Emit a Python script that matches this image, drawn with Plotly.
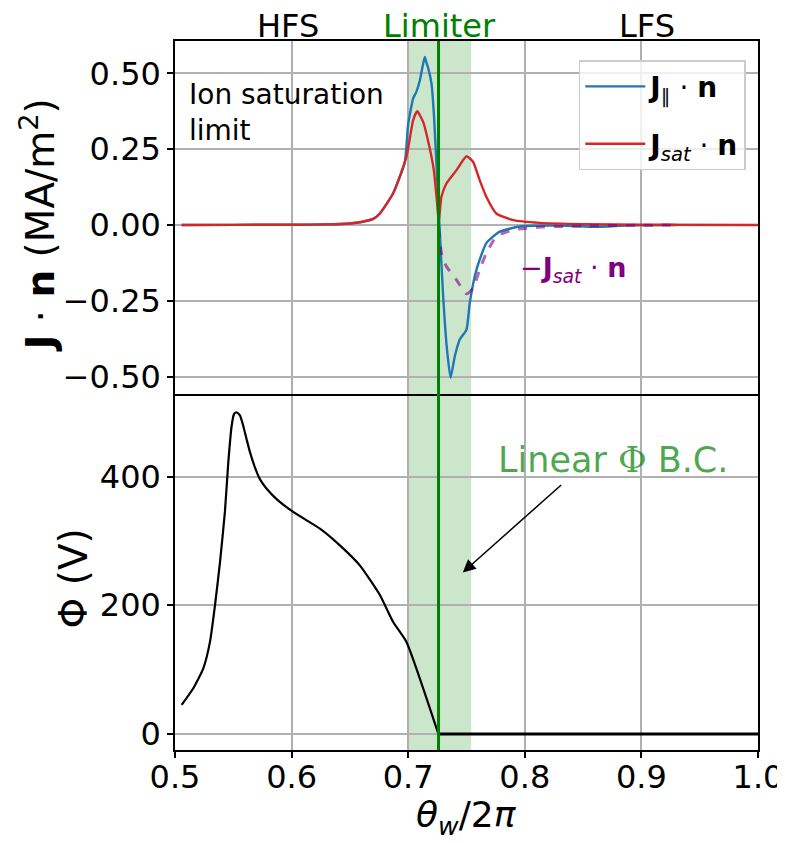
import plotly.graph_objects as go

# ---- data ----
theta_jsat = [0.5057, 0.55, 0.60, 0.63, 0.65, 0.66, 0.67, 0.6757, 0.687, 0.6985, 0.7042, 0.7077,
              0.7128, 0.7185, 0.722, 0.7248, 0.7262, 0.7285, 0.7328, 0.7414, 0.75, 0.7557,
              0.7613, 0.767, 0.7756, 0.79, 0.8128, 0.85, 0.90, 1.0]
jsat = [0.0, 0.0005, 0.001, 0.002, 0.005, 0.010, 0.020, 0.038, 0.104, 0.225, 0.345, 0.375,
        0.340, 0.252, 0.180, 0.071, 0.011, 0.093, 0.137, 0.181, 0.227, 0.208,
        0.148, 0.093, 0.038, 0.016, 0.007, 0.003, 0.001, 0.0]

theta_jpar = [0.5057, 0.55, 0.60, 0.63, 0.65, 0.66, 0.67, 0.6757, 0.687, 0.697, 0.6999, 0.7042,
              0.7071, 0.71, 0.7122, 0.7142, 0.7157, 0.717, 0.72, 0.722, 0.7242, 0.727, 0.730,
              0.733, 0.7363, 0.740, 0.7442, 0.75, 0.7528, 0.7585, 0.767, 0.7785, 0.7956,
              0.83, 0.86, 0.87, 0.89, 0.93]
jpar = [0.0, 0.0005, 0.001, 0.002, 0.005, 0.010, 0.020, 0.038, 0.104, 0.205, 0.330, 0.417,
        0.440, 0.477, 0.520, 0.554, 0.535, 0.520, 0.466, 0.368, 0.203, -0.016, -0.236,
        -0.400, -0.504, -0.433, -0.378, -0.345, -0.257, -0.148, -0.060, -0.022, -0.005,
        -0.002, -0.006, -0.005, -0.001, 0.0]

theta_neg = [0.7262, 0.7285, 0.7328, 0.7414, 0.75, 0.7557, 0.7613, 0.767, 0.7756, 0.79,
             0.8128, 0.85, 0.90, 0.93]
neg_jsat = [-0.011, -0.093, -0.137, -0.181, -0.227, -0.208, -0.148, -0.093, -0.038, -0.016,
            -0.007, -0.003, -0.001, 0.0]

theta_phi = [0.5057, 0.5157, 0.5243, 0.530, 0.5343, 0.5386, 0.5428, 0.5457, 0.5486, 0.5506,
             0.5528, 0.5557, 0.5585, 0.5614, 0.5643, 0.5686, 0.5728, 0.5786, 0.5871, 0.6014,
             0.6243, 0.6414, 0.6585, 0.6757, 0.6871, 0.6985, 0.7257]
phi = [45, 71, 102, 143, 200, 267, 345, 422, 479, 497, 500, 495, 479, 458, 438, 414, 396,
       381, 365, 345, 319, 293, 262, 216, 174, 143, 1]
theta_phi0 = [0.7257, 1.0]
phi0 = [0, 0]

x_ticks = [0.5, 0.6, 0.7, 0.8, 0.9, 1.0]
j_ticks = [-0.5, -0.25, 0.0, 0.25, 0.5]
phi_ticks = [0, 200, 400]

limiter_band = [0.700, 0.754]
limiter_pos = 0.726

FONT = "DejaVu Sans"
TICK = 32
LABEL = 39

fig = go.Figure()

fig.add_trace(go.Scatter(x=theta_jpar, y=jpar, mode="lines", xaxis="x", yaxis="y",
                         line=dict(color="#1f77b4", width=2.4, shape="spline", smoothing=0.5),
                         name="<b>J</b><sub>∥</sub> · <b>n</b>", legendgroup="a"))
fig.add_trace(go.Scatter(x=theta_jsat, y=jsat, mode="lines", xaxis="x", yaxis="y",
                         line=dict(color="#d62728", width=2.4, shape="spline", smoothing=0.5),
                         name="<b>J</b><sub><i>sat</i></sub> · <b>n</b>", legendgroup="b"))
fig.add_trace(go.Scatter(x=theta_neg, y=neg_jsat, mode="lines", xaxis="x", yaxis="y",
                         line=dict(color="rgba(128,0,128,0.6)", width=3, dash="dash",
                                   shape="spline", smoothing=0.5),
                         showlegend=False))
fig.add_trace(go.Scatter(x=theta_phi, y=phi, mode="lines", xaxis="x2", yaxis="y2",
                         line=dict(color="black", width=2.2, shape="spline", smoothing=0.5),
                         showlegend=False))
fig.add_trace(go.Scatter(x=theta_phi0, y=phi0, mode="lines", xaxis="x2", yaxis="y2",
                         line=dict(color="black", width=3),
                         showlegend=False))

axis_common = dict(showline=True, linecolor="black", linewidth=1.5,
                   showgrid=True, gridcolor="#b0b0b0", gridwidth=1.5, zeroline=False,
                   automargin=False,
                   tickfont=dict(family=FONT, size=TICK, color="black"))

# the page body adds an 8px offset, margins compensate for it
fig.update_layout(
    width=785, height=843,
    margin=dict(l=167, r=35, t=33, b=101),
    paper_bgcolor="white", plot_bgcolor="white",
    font=dict(family=FONT, color="black"),
    xaxis=dict(domain=[0, 1], anchor="y", matches="x2", range=[0.5, 1.0], side="top",
               mirror=False, tickvals=x_ticks, showticklabels=False, ticks="", **axis_common),
    yaxis=dict(domain=[0.5, 1], anchor="x", range=[-0.5625, 0.607], mirror=True,
               tickvals=j_ticks, tickformat=".2f", ticks="outside", ticklen=6,
               tickwidth=1.5, tickcolor="black", **axis_common),
    xaxis2=dict(domain=[0, 1], anchor="y2", range=[0.5, 1.0], tickvals=x_ticks, mirror=True,
                tickformat=".1f", ticks="outside", ticklen=6, tickwidth=1.5,
                tickcolor="black", ticklabelstandoff=-8, **axis_common),
    yaxis2=dict(domain=[0, 0.5], anchor="x2", range=[-25, 526], mirror=True,
                tickvals=phi_ticks, ticks="outside", ticklen=6, tickwidth=1.5,
                tickcolor="black", **axis_common),
    legend=dict(x=0.979, y=0.973, xanchor="right", yanchor="top",
                bgcolor="rgba(255,255,255,0.8)", bordercolor="#cccccc", borderwidth=1.5,
                font=dict(family=FONT, size=28, color="black"),
                tracegroupgap=18, itemwidth=60),
    showlegend=True,
)

fig.add_shape(type="rect", xref="x2", yref="paper", x0=limiter_band[0], x1=limiter_band[1],
              y0=0, y1=1, fillcolor="rgba(0,128,0,0.2)", line=dict(width=0), layer="below")
fig.add_shape(type="line", xref="x2", yref="paper", x0=limiter_pos, x1=limiter_pos,
              y0=0, y1=1, line=dict(color="#008000", width=3), layer="above")


def txt(**kw):
    d = dict(showarrow=False, xanchor="center", yanchor="middle")
    d.update(kw)
    return d


ann = []
ann.append(txt(xref="x", yref="paper", x=0.597, y=1.0205, text="HFS",
               font=dict(family=FONT, size=32, color="black")))
ann.append(txt(xref="x", yref="paper", x=0.727, y=1.0205, text="Limiter",
               font=dict(family=FONT, size=32, color="#008000")))
ann.append(txt(xref="x", yref="paper", x=0.905, y=1.0205, text="LFS",
               font=dict(family=FONT, size=32, color="black")))
ann.append(txt(xref="x", yref="y", x=0.5103, y=0.372, text="Ion saturation<br>limit",
               xanchor="left", align="left",
               font=dict(family=FONT, size=28, color="black")))
ann.append(txt(xref="x", yref="y", x=0.841, y=-0.148,
               text="−<b>J</b><sub><i>sat</i></sub> · <b>n</b>",
               font=dict(family=FONT, size=27, color="#800080")))
ann.append(txt(xref="x2", yref="y2", x=0.876, y=425,
               text="Linear <span style='font-family:DejaVu Serif'>Φ</span> B.C.",
               font=dict(family=FONT, size=35, color="rgba(0,128,0,0.7)")))
ann.append(dict(xref="x2", yref="y2", x=0.7468, y=251, axref="x2", ayref="y2",
                ax=0.8325, ay=389, text="", showarrow=True, arrowhead=2, arrowsize=1.7,
                arrowwidth=1.5, arrowcolor="black"))
ann.append(txt(xref="paper", yref="paper", x=-0.235, y=0.740,
               text="<b>J</b> · <b>n</b> (MA/m<sup>2</sup>)", textangle=-90,
               font=dict(family=FONT, size=LABEL, color="black")))
ann.append(txt(xref="paper", yref="paper", x=-0.175, y=0.242, text="Φ (V)", textangle=-90,
               font=dict(family=FONT, size=LABEL, color="black")))
ann.append(txt(xref="paper", yref="paper", x=0.5, y=-0.0955,
               text="<i>θ</i><sub><i>w</i></sub>/2<i>π</i>",
               font=dict(family=FONT, size=36, color="black")))
fig.update_layout(annotations=ann)

fig.write_html("out.html")
